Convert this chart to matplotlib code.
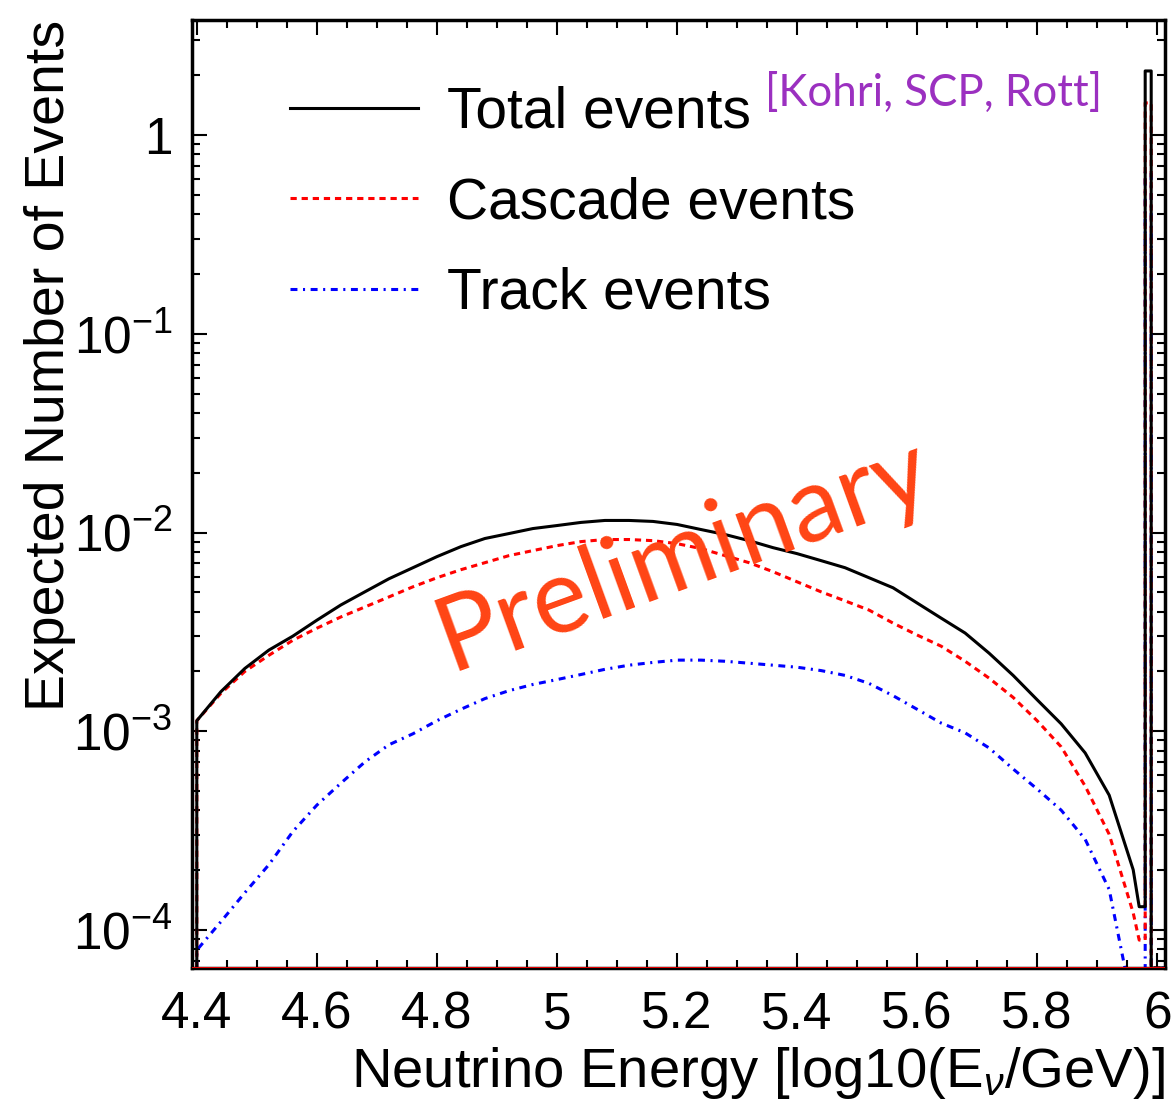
import numpy as np
import matplotlib
matplotlib.use('Agg')
import matplotlib.pyplot as plt
from matplotlib.ticker import FixedLocator, MultipleLocator, FuncFormatter

plt.rcParams['font.family'] = ['Liberation Sans', 'DejaVu Sans']
plt.rcParams['mathtext.fontset'] = 'custom'
plt.rcParams['mathtext.rm'] = 'Liberation Sans'
plt.rcParams['mathtext.it'] = 'Liberation Sans:italic'
plt.rcParams['lines.scale_dashes'] = False

# log10(E/GeV), centre of each read-off point
energy = [4.40, 4.44, 4.48, 4.52, 4.56, 4.60, 4.64, 4.68, 4.72, 4.76,
          4.80, 4.84, 4.88, 4.92, 4.96, 5.00, 5.04, 5.08, 5.12, 5.16,
          5.20, 5.24, 5.28, 5.32, 5.36, 5.40, 5.44, 5.48, 5.52, 5.56,
          5.60, 5.64, 5.68, 5.72, 5.76, 5.80, 5.84, 5.88, 5.92, 5.96, 5.97]

total = [1.13e-3, 1.58e-3, 2.07e-3, 2.56e-3, 3.01e-3, 3.62e-3, 4.32e-3, 5.03e-3, 5.85e-3, 6.65e-3,
         7.56e-3, 8.49e-3, 9.33e-3, 9.88e-3, 1.047e-2, 1.084e-2, 1.124e-2, 1.15e-2, 1.15e-2, 1.137e-2,
         1.098e-2, 1.035e-2, 9.77e-3, 9.10e-3, 8.39e-3, 7.83e-3, 7.22e-3, 6.65e-3, 5.92e-3, 5.27e-3,
         4.42e-3, 3.71e-3, 3.12e-3, 2.47e-3, 1.91e-3, 1.44e-3, 1.09e-3, 7.78e-4, 4.77e-4, 2.01e-4, 1.31e-4]

cascade = [1.13e-3, 1.55e-3, 2.00e-3, 2.41e-3, 2.87e-3, 3.30e-3, 3.76e-3, 4.22e-3, 4.74e-3, 5.33e-3,
           5.92e-3, 6.50e-3, 7.05e-3, 7.65e-3, 8.11e-3, 8.59e-3, 9.00e-3, 9.22e-3, 9.22e-3, 9.10e-3,
           8.79e-3, 8.30e-3, 7.65e-3, 7.05e-3, 6.35e-3, 5.65e-3, 5.03e-3, 4.53e-3, 4.07e-3, 3.50e-3,
           3.05e-3, 2.68e-3, 2.25e-3, 1.85e-3, 1.48e-3, 1.13e-3, 8.35e-4, 5.30e-4, 3.03e-4, 1.22e-4, 8.9e-5]

track = [7.92e-5, 1.10e-4, 1.54e-4, 2.13e-4, 3.13e-4, 4.25e-4, 5.48e-4, 7.01e-4, 8.55e-4, 9.71e-4,
         1.13e-3, 1.29e-3, 1.46e-3, 1.60e-3, 1.72e-3, 1.82e-3, 1.93e-3, 2.05e-3, 2.15e-3, 2.22e-3,
         2.28e-3, 2.28e-3, 2.25e-3, 2.20e-3, 2.15e-3, 2.10e-3, 2.02e-3, 1.91e-3, 1.74e-3, 1.51e-3,
         1.29e-3, 1.10e-3, 9.82e-4, 8.24e-4, 6.46e-4, 5.12e-4, 4.01e-4, 2.86e-4, 1.60e-4, 4.0e-5, 1e-6]

# narrow peak bin at the upper end
spike_bin = [5.98, 5.99]
spike_total = 2.1
spike_cascade = 1.45
spike_track = 0.65

xlim = (4.392, 6.013)
ylim = (6.44e-5, 3.79)
xticks = [4.4, 4.6, 4.8, 5.0, 5.2, 5.4, 5.6, 5.8, 6.0]
yticks = [1e-4, 1e-3, 1e-2, 1e-1, 1]
ytick_labels = ['$10^{-4}$', '$10^{-3}$', '$10^{-2}$', '$10^{-1}$', '1']


def hist_path(vals, spike):
    # vertical edge from the bottom, curve, then the last bin + spike back down
    xs = [energy[0]] + energy + [spike_bin[0], spike_bin[0], spike_bin[1], spike_bin[1], xlim[1]]
    ys = [ylim[0]] + vals + [vals[-1], spike, spike, ylim[0], ylim[0]]
    return xs, ys


fig = plt.figure(figsize=(11.71, 11.11), dpi=100)
ax = fig.add_axes([192 / 1171, 1 - 968 / 1111, (1165 - 192) / 1171, (968 - 20) / 1111])
ax.set_yscale('log')

xs, ys = hist_path(track, spike_track)
l_track, = ax.plot(xs, ys, color='#0000ff', lw=2.2, ls=(0, (5, 4, 1.5, 4)), label='Track events')
xs, ys = hist_path(cascade, spike_cascade)
l_casc, = ax.plot(xs, ys, color='#ff0000', lw=2.2, ls=(0, (4.5, 3.5)), label='Cascade events')
xs, ys = hist_path(total, spike_total)
l_tot, = ax.plot(xs, ys, color='black', lw=2.2, label='Total events')

ax.axhline(ylim[0], color='#ff0000', lw=2, zorder=5)

ax.set_xlim(*xlim)
ax.set_ylim(*ylim)

for s in ax.spines.values():
    s.set_linewidth(2.5)

ax.xaxis.set_major_locator(FixedLocator(xticks))
ax.xaxis.set_minor_locator(MultipleLocator(0.05))
ax.xaxis.set_major_formatter(FuncFormatter(lambda v, p: '%g' % v))
ax.yaxis.set_major_locator(FixedLocator(yticks))
ax.set_yticklabels(ytick_labels)
ax.tick_params(which='both', direction='in', top=True, right=True, width=1.5)
ax.tick_params(which='major', length=11)
ax.tick_params(which='minor', length=6)
ax.tick_params(axis='x', which='major', labelsize=37, pad=16)
ax.tick_params(axis='y', which='major', labelsize=37, pad=14)

ax.set_xlabel('Neutrino Energy [log10(E$_{\\nu}$/GeV)]', fontsize=40.5, loc='right', labelpad=4)
ax.set_ylabel('Expected Number of Events', fontsize=40, loc='top', labelpad=-2)

ax.legend(handles=[l_tot, l_casc, l_track], loc='upper left', bbox_to_anchor=(0.1007, 0.9305),
          fontsize=41, frameon=False, handlelength=2.25, handletextpad=0.5,
          labelspacing=0.64, borderpad=0, borderaxespad=0)

fig.text(765 / 1171, 1 - 93 / 1111, '[Kohri, SCP, Rott]', color='#9b30c0',
         fontsize=31.5, family=['Lato', 'DejaVu Sans'], ha='left', va='center')
fig.text(683 / 1171, 1 - 555 / 1111, 'Preliminary', color='#ff4414',
         fontsize=75, family=['Lato', 'DejaVu Sans'], ha='center', va='center', rotation=20)

fig.savefig('out.png', dpi=100)
